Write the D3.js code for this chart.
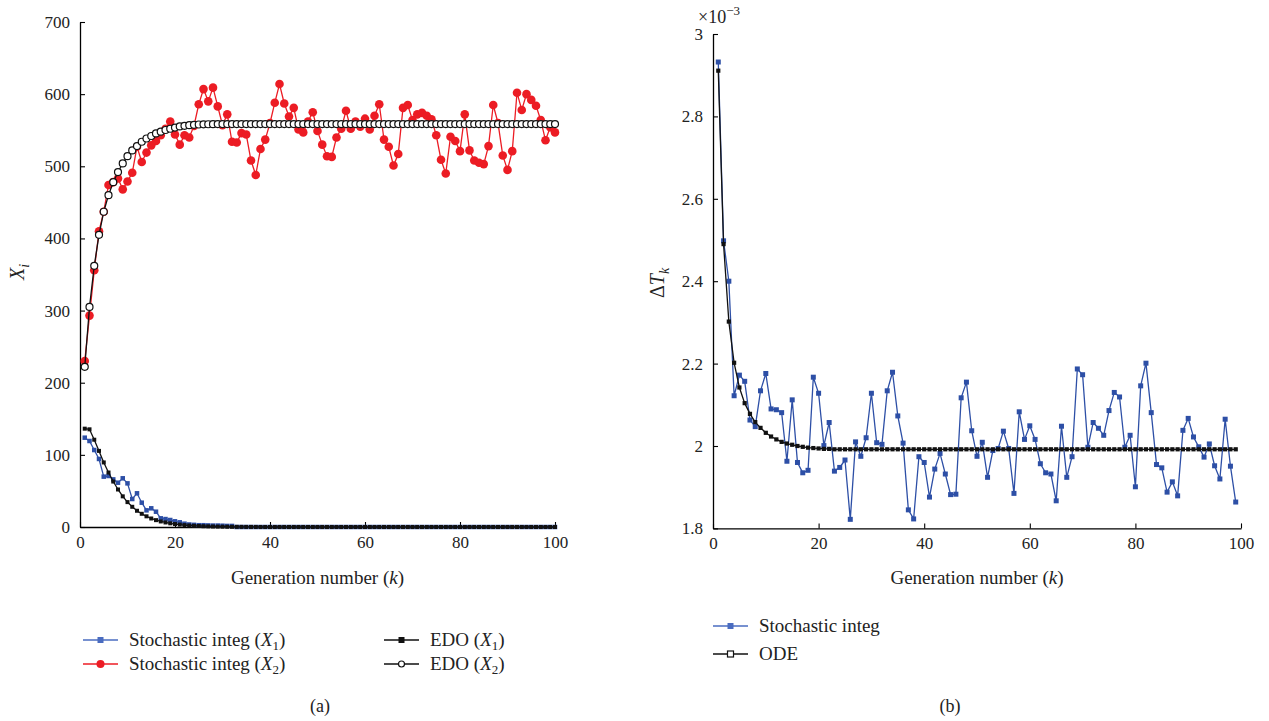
<!DOCTYPE html>
<html><head><meta charset="utf-8">
<script src="https://cdn.jsdelivr.net/npm/d3@7"></script>
<style>body{margin:0;background:#fff}svg{display:block}text{font-family:"Liberation Serif","Times New Roman",serif;fill:#222}</style>
</head><body><svg id="c" width="1269" height="721"></svg>
<script>
// ---------- data (a) ----------
const genA = d3.range(1, 101);
const stochX1 = [123.8,119.2,106.7,94.3,69.8,70.7,66,61.4,67.5,60.5,38.8,46.7,33.7,23.1,25.9,21.2,12,11,9.7,7.9,
6.5,4.6,3.5,3,2.5,2.5,2.2,2,2,1.8,1.5,1.5,0,0,0,0,0,0,0,0,
0,0,0,0,0,0,0,0,0,0,0,0,0,0,0,0,0,0,0,0,0,0,0,0,0,0,0,0,0,0,0,0,0,0,0,0,0,0,0,0,0,0,0,0,0,0,0,0,0,0,0,0,0,0,0,0,0,0,0,0];
const stochX2 = [230,293,356,410,437,474,478,483,468,479,491,527,506,519,529,535,543,552,562,544,
530,543,540,556,586,607,590,609,583,557,572,534,533,546,544,508,488,524,537,560,
588,614,587,569,581,551,547,562,575,549,530,514,513,540,552,577,552,562,555,566,
551,570,586,537,527,501,517,581,585,564,572,574,570,565,543,509,490,541,535,521,
572,522,508,505,503,528,585,560,515,495,521,602,578,600,592,584,564,536,554,547];
const edoX1 = [136.3,135.4,121,105.5,89.5,75.5,63,52,42.5,34.5,28,22.5,18.3,14.8,11.8,9.5,7.7,6.3,5.1,4.1,
3.3,2.6,2.1,1.7,1.4,1.1,0.9,0.7,0.55,0.45,0.35,0.25,0.2,0.15,0.1,0.1,0.05,0,0,0,
0,0,0,0,0,0,0,0,0,0,0,0,0,0,0,0,0,0,0,0,0,0,0,0,0,0,0,0,0,0,0,0,0,0,0,0,0,0,0,0,0,0,0,0,0,0,0,0,0,0,0,0,0,0,0,0,0,0,0,0];
const edoX2 = [222,305,362,405,437,460,478,492,504,514,522,528,534,538.5,542,545.5,548,550.3,552,553.7,
555.2,556.1,557,557.5,557.9,558.1,558.3,558.4,558.5,558.5,558.5,558.5,558.5,558.5,558.5,558.5,558.5,558.5,558.5,558.5,
558.5,558.5,558.5,558.5,558.5,558.5,558.5,558.5,558.5,558.5,558.5,558.5,558.5,558.5,558.5,558.5,558.5,558.5,558.5,558.5,
558.5,558.5,558.5,558.5,558.5,558.5,558.5,558.5,558.5,558.5,558.5,558.5,558.5,558.5,558.5,558.5,558.5,558.5,558.5,558.5,
558.5,558.5,558.5,558.5,558.5,558.5,558.5,558.5,558.5,558.5,558.5,558.5,558.5,558.5,558.5,558.5,558.5,558.5,558.5,558.5];
const xTicksA = [0,20,40,60,80,100];
const yTicksA = [0,100,200,300,400,500,600,700];

// ---------- data (b) ----------
const genB = d3.range(1, 100);
const stochDT = [2.932,2.498,2.400,2.122,2.172,2.157,2.063,2.047,2.134,2.176,2.090,2.088,2.081,1.963,2.112,1.960,1.935,1.941,2.167,2.128,
2.001,2.057,1.939,1.948,1.966,1.822,2.010,1.975,2.020,2.128,2.008,2.004,2.134,2.179,2.073,2.007,1.845,1.823,1.974,1.960,
1.876,1.944,1.982,1.932,1.882,1.883,2.117,2.155,2.037,1.975,2.009,1.924,1.989,1.994,2.036,1.994,1.885,2.083,2.016,2.049,
2.016,1.957,1.935,1.932,1.867,2.048,1.924,1.974,2.187,2.173,1.997,2.057,2.043,2.026,2.086,2.130,2.119,1.997,2.026,1.901,
2.146,2.201,2.081,1.955,1.947,1.888,1.913,1.879,2.038,2.067,2.022,1.998,1.973,2.005,1.952,1.920,2.065,1.951,1.864];
const odeDT = [2.911,2.490,2.302,2.202,2.142,2.104,2.078,2.058,2.044,2.032,2.023,2.016,2.010,2.006,2.003,2.000,1.998,1.996,1.995,1.994,
1.993,1.993,1.992,1.992,1.992,1.992,1.992,1.992,1.992,1.992,1.992,1.992,1.992,1.992,1.992,1.992,1.992,1.992,1.992,1.992,
1.992,1.992,1.992,1.992,1.992,1.992,1.992,1.992,1.992,1.992,1.992,1.992,1.992,1.992,1.992,1.992,1.992,1.992,1.992,1.992,
1.992,1.992,1.992,1.992,1.992,1.992,1.992,1.992,1.992,1.992,1.992,1.992,1.992,1.992,1.992,1.992,1.992,1.992,1.992,1.992,
1.992,1.992,1.992,1.992,1.992,1.992,1.992,1.992,1.992,1.992,1.992,1.992,1.992,1.992,1.992,1.992,1.992,1.992,1.992];
const xTicksB = [0,20,40,60,80,100];
const yTicksB = [1.8,2,2.2,2.4,2.6,2.8,3];
const yTickLabelsB = ["1.8","2","2.2","2.4","2.6","2.8","3"];

const RED = "#ec1c24", BLUE = "#2d4fa6", BLACK = "#111";

const svg = d3.select("#c");
svg.append("rect").attr("width",1269).attr("height",721).attr("fill","#fff");

function styleAxis(g){
  g.selectAll("path.domain").attr("stroke","#000").attr("stroke-width",1.3);
  g.selectAll(".tick line").attr("stroke","#000").attr("stroke-width",1.1);
  g.selectAll(".tick text").style("font-family","'Liberation Serif',serif").style("font-size","17px").attr("fill","#222");
}

// ---------- panel (a) ----------
const xA = d3.scaleLinear().domain([0,100]).range([80,555]);
const yA = d3.scaleLinear().domain([0,700]).range([527,22]);

const gxA = svg.append("g").attr("transform","translate(0,527)")
  .call(d3.axisBottom(xA).tickValues(xTicksA).tickSizeInner(-5).tickSizeOuter(0).tickPadding(9));
styleAxis(gxA);
const gyA = svg.append("g").attr("transform","translate(80,0)")
  .call(d3.axisLeft(yA).tickValues(yTicksA).tickSizeInner(-5).tickSizeOuter(0).tickPadding(10));
styleAxis(gyA);

function drawSeries(g, xs, ys, xScale, yScale, color, marker, size){
  const pts = xs.map((k,i)=>[xScale(k), yScale(ys[i])]);
  g.append("path").attr("d", d3.line()(pts)).attr("fill","none").attr("stroke",color).attr("stroke-width",1.3);
  const mg = g.append("g");
  pts.forEach(p=>{
    if(marker==="circle") mg.append("circle").attr("cx",p[0]).attr("cy",p[1]).attr("r",size).attr("fill",color);
    else if(marker==="ocircle") mg.append("circle").attr("cx",p[0]).attr("cy",p[1]).attr("r",size).attr("fill","#fff").attr("stroke",color).attr("stroke-width",1.2);
    else mg.append("rect").attr("x",p[0]-size/2).attr("y",p[1]-size/2).attr("width",size).attr("height",size).attr("fill",color);
  });
}
const plotA = svg.append("g");
drawSeries(plotA, genA, stochX1, xA, yA, BLUE, "square", 4.5);
drawSeries(plotA, genA, stochX2, xA, yA, RED, "circle", 4.3);
drawSeries(plotA, genA, edoX1, xA, yA, BLACK, "square", 4);
drawSeries(plotA, genA, edoX2, xA, yA, BLACK, "ocircle", 3.5);

// axis titles (a)
const tA = svg.append("text").attr("x", (xA(0)+xA(100))/2).attr("y",584).attr("text-anchor","middle").style("font-size","19px");
tA.append("tspan").text("Generation number (");
tA.append("tspan").style("font-style","italic").text("k");
tA.append("tspan").text(")");
const yt = svg.append("text").attr("transform","translate(24,272) rotate(-90)").attr("text-anchor","middle").style("font-size","20px");
yt.append("tspan").style("font-style","italic").text("X");
yt.append("tspan").style("font-style","italic").style("font-size","14px").attr("dy",5).text("i");

// legend
function legendItem(x, y, color, marker, label, sub){
  const g = svg.append("g");
  g.append("line").attr("x1",x).attr("x2",x+35).attr("y1",y).attr("y2",y).attr("stroke",color).attr("stroke-width",1.6);
  const cx = x+17.5;
  if(marker==="circle") g.append("circle").attr("cx",cx).attr("cy",y).attr("r",4).attr("fill",color);
  else if(marker==="ocircle") g.append("circle").attr("cx",cx).attr("cy",y).attr("r",3).attr("fill","#fff").attr("stroke",color).attr("stroke-width",1.2);
  else if(marker==="osquare") g.append("rect").attr("x",cx-3).attr("y",y-3).attr("width",6).attr("height",6).attr("fill","#fff").attr("stroke",color).attr("stroke-width",1.2);
  else g.append("rect").attr("x",cx-3).attr("y",y-3).attr("width",6).attr("height",6).attr("fill",color);
  const t = g.append("text").attr("x",x+46).attr("y",y+6).style("font-size","19px");
  t.append("tspan").text(label);
  if(sub){
    t.append("tspan").text("(");
    t.append("tspan").style("font-style","italic").text("X");
    t.append("tspan").style("font-size","13px").attr("dy",4).text(sub);
    t.append("tspan").attr("dy",-4).text(")");
  }
}
legendItem(83, 640, "#4a6cc0", "square", "Stochastic integ ", "1");
legendItem(83, 664, RED, "circle", "Stochastic integ ", "2");
legendItem(384, 640, BLACK, "square", "EDO ", "1");
legendItem(384, 664, BLACK, "ocircle", "EDO ", "2");
svg.append("text").attr("x",320).attr("y",712).attr("text-anchor","middle").style("font-size","18px").text("(a)");

// ---------- panel (b) ----------
const xB = d3.scaleLinear().domain([0,100]).range([713,1241]);
const yB = d3.scaleLinear().domain([1.8,3.0]).range([528.4,34]);
const gxB = svg.append("g").attr("transform","translate(0,528.4)")
  .call(d3.axisBottom(xB).tickValues(xTicksB).tickSizeInner(-5).tickSizeOuter(0).tickPadding(9));
styleAxis(gxB);
const gyB = svg.append("g").attr("transform","translate(713,0)")
  .call(d3.axisLeft(yB).tickValues(yTicksB).tickFormat((d,i)=>yTickLabelsB[i]).tickSizeInner(-5).tickSizeOuter(0).tickPadding(10));
styleAxis(gyB);

const plotB = svg.append("g");
drawSeries(plotB, genB, stochDT, xB, yB, BLUE, "square", 5);
drawSeries(plotB, genB, odeDT, xB, yB, BLACK, "square", 4.2);

const tB = svg.append("text").attr("x",(xB(0)+xB(100))/2).attr("y",584).attr("text-anchor","middle").style("font-size","19px");
tB.append("tspan").text("Generation number (");
tB.append("tspan").style("font-style","italic").text("k");
tB.append("tspan").text(")");
const ytB = svg.append("text").attr("transform","translate(664,283) rotate(-90)").attr("text-anchor","middle").style("font-size","20px");
ytB.append("tspan").text("Δ");
ytB.append("tspan").style("font-style","italic").text("T");
ytB.append("tspan").style("font-style","italic").style("font-size","14px").attr("dy",5).text("k");
const exp = svg.append("text").attr("x",698).attr("y",23).style("font-size","18px");
exp.append("tspan").text("×10");
exp.append("tspan").style("font-size","13px").attr("dy",-8).text("−3");

legendItem(713, 626, "#4a6cc0", "square", "Stochastic integ", null);
legendItem(713, 654, BLACK, "osquare", "ODE", null);
svg.append("text").attr("x",950).attr("y",712).attr("text-anchor","middle").style("font-size","18px").text("(b)");
</script></body></html>
